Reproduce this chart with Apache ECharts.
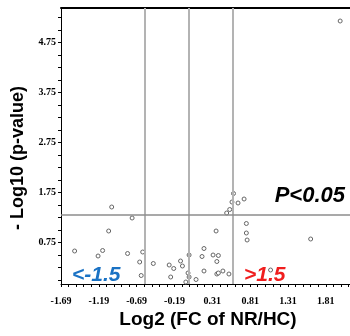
<!DOCTYPE html>
<html>
<head>
<meta charset="utf-8">
<script src="https://cdn.jsdelivr.net/npm/echarts@6/dist/echarts.min.js"></script>
<style>
  html, body { margin: 0; padding: 0; background: #fff; }
  #chart { width: 350px; height: 336px; }
</style>
</head>
<body>
<div id="chart"></div>
<script>
// log2 fold change (NR/HC) and -log10(p) for each protein
var logFC = [
  -1.02, -0.75, -1.06, -1.51, -1.20, -1.14, -0.81, -0.61, -0.65, -0.63,
  -0.47, -0.26, -0.20, -0.24, -0.11, -0.085, 0.003, -0.011, 0.003, -0.04,
  0.095, 0.20, 0.174, 0.20, 0.32, 0.39, 0.37, 0.36, 0.37, 0.39,
  0.45, 0.53, 0.50, 0.54, 0.57, 0.59, 0.65, 0.73, 0.76, 0.76,
  0.77, 1.61, 1.08, 2.00
]
var negLogP = [
  1.46, 1.24, 0.98, 0.58, 0.48, 0.59, 0.53, 0.56, 0.36, 0.09,
  0.33, 0.30, 0.23, 0.06, 0.38, 0.28, 0.50, 0.14, 0.06, -0.04,
  0.01, 0.63, 0.47, 0.18, 0.50, 0.49, 0.37, 0.98, 0.12, 0.14,
  0.18, 0.12, 1.34, 1.41, 1.56, 1.73, 1.54, 1.62, 1.13, 0.94,
  0.80, 0.82, 0.20, 5.18
]

var xTickLabels = [-1.69, -1.19, -0.69, -0.19, 0.31, 0.81, 1.31, 1.81]
var xMinorTicks = [-1.69, -1.59, -1.49, -1.39, -1.29, -1.19, -1.09, -0.99, -0.89, -0.79,
  -0.69, -0.59, -0.49, -0.39, -0.29, -0.19, -0.09, 0.01, 0.11, 0.21,
  0.31, 0.41, 0.51, 0.61, 0.71, 0.81, 0.91, 1.01, 1.11, 1.21,
  1.31, 1.41, 1.51, 1.61, 1.71, 1.81, 1.91, 2.01, 2.11]
var yTickLabels = [0.75, 1.75, 2.75, 3.75, 4.75]
var yMinorTicks = [0, 0.25, 0.5, 0.75, 1, 1.25, 1.5, 1.75, 2, 2.25, 2.5, 2.75, 3, 3.25,
  3.5, 3.75, 4, 4.25, 4.5, 4.75, 5, 5.25]

// cut-offs: FC 1.5 either way, p 0.05
var fcCuts = [-0.585, 0, 0.585]
var pCut = 1.301

var points = logFC.map(function (v, i) { return [v, negLogP[i]] })

var chart = echarts.init(document.getElementById('chart'))

var tickFont = {
  fontFamily: 'Liberation Serif',
  fontWeight: 'bold',
  fontSize: 10,
  color: '#000'
}

var option = {
  animation: false,
  grid: { left: 61, top: 8, right: 0, bottom: 52 },
  xAxis: [{
    type: 'value',
    min: -1.69,
    max: 2.13,
    axisLine: { show: true, onZero: false, lineStyle: { color: '#000', width: 1 } },
    axisTick: { show: true, length: 3, customValues: xMinorTicks, lineStyle: { color: '#000' } },
    axisLabel: Object.assign({
      customValues: xTickLabels,
      margin: 12,
      formatter: function (v) { return v.toFixed(2) }
    }, tickFont),
    splitLine: { show: false }
  }, {
    type: 'value',
    position: 'top',
    min: -1.69,
    max: 2.13,
    axisLine: { show: true, onZero: false, lineStyle: { color: '#000', width: 2 } },
    axisTick: { show: false },
    axisLabel: { show: false },
    splitLine: { show: false }
  }],
  yAxis: {
    type: 'value',
    min: -0.08,
    max: 5.44,
    axisLine: { show: true, onZero: false, lineStyle: { color: '#000', width: 1 } },
    axisTick: { show: true, length: 3, customValues: yMinorTicks, lineStyle: { color: '#000' } },
    axisLabel: Object.assign({
      customValues: yTickLabels,
      margin: 5,
      formatter: function (v) { return v.toFixed(2) }
    }, tickFont),
    splitLine: { show: false }
  },
  series: [{
    type: 'scatter',
    data: points,
    symbol: 'circle',
    symbolSize: 4,
    itemStyle: { color: '#fff', borderColor: '#666', borderWidth: 1, opacity: 1 },
    z: 3,
    markLine: {
      silent: true,
      symbol: 'none',
      label: { show: false },
      animation: false,
      data: fcCuts.map(function (v) {
        return { xAxis: v, lineStyle: { color: '#b3b3b3', width: 2, type: 'solid' } }
      }).concat([
        { yAxis: pCut, lineStyle: { color: '#8c8c8c', width: 1.5, type: 'solid' } }
      ])
    }
  }],
  graphic: [
    {
      type: 'text', x: 18, y: 158, rotation: Math.PI / 2,
      style: {
        text: '- Log10 (p-value)', align: 'center', verticalAlign: 'middle',
        font: 'bold 18px "Liberation Sans"', fill: '#000'
      }
    },
    {
      type: 'text', x: 208, y: 320,
      style: {
        text: 'Log2 (FC of NR/HC)', align: 'center', verticalAlign: 'middle',
        font: 'bold 19px "Liberation Sans"', fill: '#000'
      }
    },
    {
      type: 'text', x: 345, y: 196,
      style: {
        text: 'P<0.05', align: 'right', verticalAlign: 'middle',
        font: 'italic bold 22px "Liberation Sans"', fill: '#000'
      }
    },
    {
      type: 'text', x: 72, y: 275,
      style: {
        text: '<-1.5', align: 'left', verticalAlign: 'middle',
        font: 'italic bold 21px "Liberation Sans"', fill: '#1a72c4'
      }
    },
    {
      type: 'text', x: 244, y: 275,
      style: {
        text: '>1.5', align: 'left', verticalAlign: 'middle',
        font: 'italic bold 21px "Liberation Sans"', fill: '#f01e1e'
      }
    }
  ]
}

chart.setOption(option)
</script>
</body>
</html>
